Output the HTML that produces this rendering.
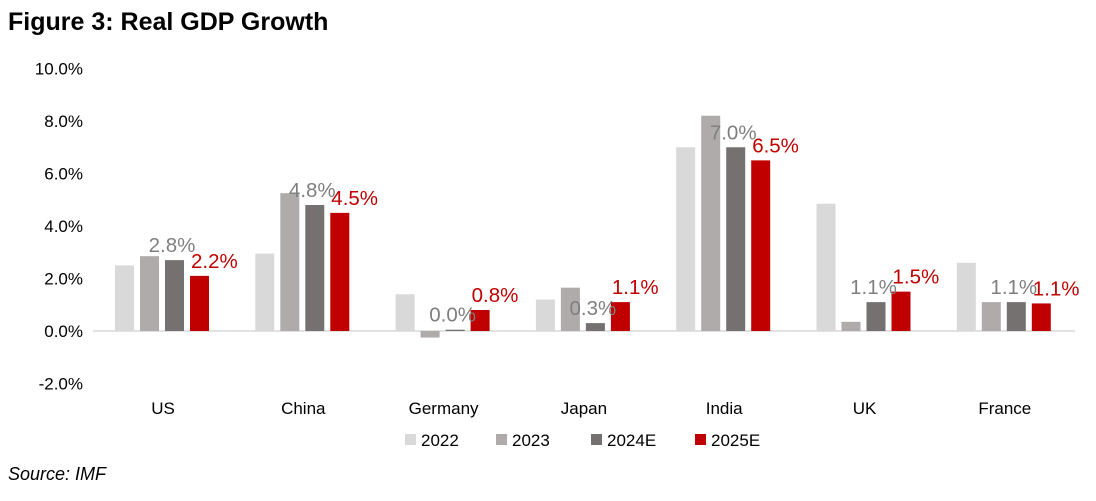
<!DOCTYPE html>
<html><head><meta charset="utf-8"><style>
body{margin:0;background:#fff;font-family:"Liberation Sans",Arial,sans-serif;}
svg text{font-family:"Liberation Sans",Arial,sans-serif;}
</style></head><body>
<svg id="c" width="1096" height="496" viewBox="0 0 1096 496">
<text x="8" y="30" font-size="25" font-weight="bold" fill="#000">Figure 3: Real GDP Growth</text>
<text x="8" y="480" font-size="18" font-style="italic" fill="#000">Source: IMF</text>
<g id="axis"></g><g id="bars"></g><g id="labels"></g><g id="legend"></g>
</svg>
<script>
const categories=["US","China","Germany","Japan","India","UK","France"];
const seriesNames=["2022","2023","2024E","2025E"];
const s2022=[2.5,2.95,1.4,1.2,7.0,4.85,2.6];
const s2023=[2.85,5.25,-0.25,1.65,8.2,0.35,1.1];
const s2024=[2.7,4.8,0.05,0.3,7.0,1.1,1.1];
const s2025=[2.1,4.5,0.8,1.1,6.5,1.5,1.05];
const labels2024=["2.8%","4.8%","0.0%","0.3%","7.0%","1.1%","1.1%"];
const labels2025=["2.2%","4.5%","0.8%","1.1%","6.5%","1.5%","1.1%"];
const yTicks=[10,8,6,4,2,0,-2];
const colors=["#d9d9d9","#afabab","#767171","#c00000"];
const series=[s2022,s2023,s2024,s2025];
const NS="http://www.w3.org/2000/svg";
const y=v=>331-v*26.25;
const cx=i=>163+i*140.3;
function mk(t,a,p,txt){const e=document.createElementNS(NS,t);for(const k in a)e.setAttribute(k,a[k]);if(txt!==undefined)e.textContent=txt;p.appendChild(e);return e;}
const ax=document.getElementById('axis'),bg=document.getElementById('bars'),lg=document.getElementById('labels'),le=document.getElementById('legend');
yTicks.forEach(t=>{const e=mk('text',{x:83,y:y(t)+6,'font-size':17,'text-anchor':'end',fill:'#000'},ax,t.toFixed(1)+'%');

});
const zl=mk('line',{x1:93,x2:1075,y1:y(0),y2:y(0),stroke:'#d9d9d9','stroke-width':1.5},ax);


categories.forEach((c,i)=>{const e=mk('text',{x:cx(i),y:414,'font-size':17,'text-anchor':'middle',fill:'#000'},ax,c);


series.forEach((s,j)=>{const v=s[i];const bx=cx(i)-48+j*25;const r=mk('rect',{x:bx,y:Math.min(y(v),y(0)),width:19,height:Math.abs(y(v)-y(0)),fill:colors[j]},bg);

});
const b3=cx(i)-48+2*25,b4=cx(i)-48+3*25;
const t1=mk('text',{x:b3+7,y:Math.min(y(s2024[i]),y(0))-8,'font-size':20.5,'text-anchor':'middle',fill:'#7f7f7f'},lg,labels2024[i]);


const t2=mk('text',{x:b4+1,y:Math.min(y(s2025[i]),y(0))-8,'font-size':20.5,fill:'#c00000'},lg,labels2025[i]);

});
const lx=[405,496,591,695];
seriesNames.forEach((n,j)=>{const r=mk('rect',{x:lx[j],y:434,width:11,height:11,fill:colors[j]},le);


const t=mk('text',{x:lx[j]+16,y:446,'font-size':17,fill:'#000'},le,n);

});
</script>
</body></html>
